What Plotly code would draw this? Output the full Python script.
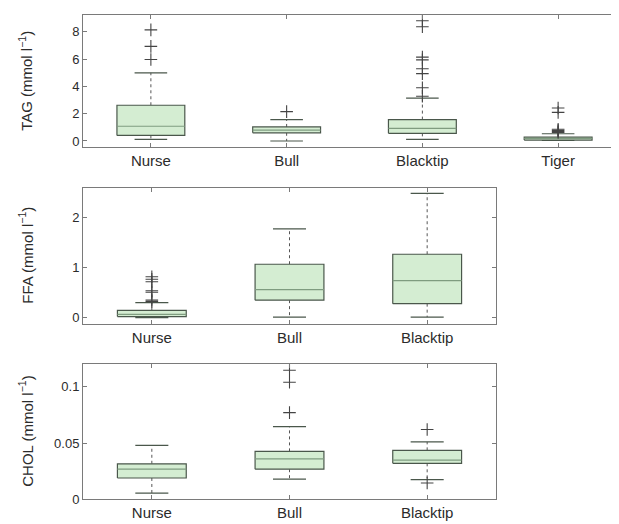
import plotly.graph_objects as go

# ---------------- data ----------------
tag_cats = ["Nurse", "Bull", "Blacktip", "Tiger"]
tag_q1 = [0.41, 0.60, 0.56, 0.07]
tag_med = [1.08, 0.80, 0.92, 0.19]
tag_q3 = [2.62, 1.03, 1.57, 0.29]
tag_lw = [0.12, 0.00, 0.12, 0.04]
tag_uw = [5.00, 1.57, 3.15, 0.53]
tag_out = [[5.98, 6.94, 8.15], [2.15], [3.28, 3.9, 4.94, 5.3, 5.95, 6.15, 8.38, 8.82], [0.62, 0.7, 0.78, 0.86, 2.1, 2.42]]

ffa_cats = ["Nurse", "Bull", "Blacktip"]
ffa_q1 = [0.02, 0.35, 0.28]
ffa_med = [0.065, 0.56, 0.74]
ffa_q3 = [0.145, 1.07, 1.27]
ffa_lw = [0.0, 0.01, 0.01]
ffa_uw = [0.30, 1.78, 2.49]
ffa_out = [[0.32, 0.35, 0.51, 0.54, 0.72, 0.77, 0.82], [], []]

chol_cats = ["Nurse", "Bull", "Blacktip"]
chol_q1 = [0.019, 0.0268, 0.032]
chol_med = [0.0268, 0.036, 0.0348]
chol_q3 = [0.0316, 0.0426, 0.0435]
chol_lw = [0.0055, 0.018, 0.0175]
chol_uw = [0.048, 0.0646, 0.051]
chol_out = [[], [0.077, 0.104, 0.1146], [0.0146, 0.062]]

panels = [
    dict(cats=tag_cats, q1=tag_q1, med=tag_med, q3=tag_q3, lw=tag_lw, uw=tag_uw, out=tag_out,
         title="TAG (mmol l<sup>−1</sup>)", yrange=[-0.43, 9.25], tickvals=[0, 2, 4, 6, 8],
         ticktext=["0", "2", "4", "6", "8"], xdom=[75/619, 618/619], ydom=[1-141/524, 1-7/524]),
    dict(cats=ffa_cats, q1=ffa_q1, med=ffa_med, q3=ffa_q3, lw=ffa_lw, uw=ffa_uw, out=ffa_out,
         title="FFA (mmol l<sup>−1</sup>)", yrange=[-0.12, 2.6], tickvals=[0, 1, 2],
         ticktext=["0", "1", "2"], xdom=[75/619, 488/619], ydom=[1-320.5/524, 1-182.7/524]),
    dict(cats=chol_cats, q1=chol_q1, med=chol_med, q3=chol_q3, lw=chol_lw, uw=chol_uw, out=chol_out,
         title="CHOL (mmol l<sup>−1</sup>)", yrange=[0, 0.12], tickvals=[0, 0.05, 0.1],
         ticktext=["0", "0.05", "0.1"], xdom=[75/619, 488/619], ydom=[1-499/524, 1-361.7/524]),
]

FILL = "#d4edd2"
EDGE = "#4a574b"
MED = "#7f9c80"
AXC = "#7a7a7a"
TXT = "#2b2b2b"
HW = 0.25   # half box width
CW = 0.12   # half cap width

fig = go.Figure()
layout = {}
annotations = []
for p_i, p in enumerate(panels):
    sfx = "" if p_i == 0 else str(p_i + 1)
    xa, ya = "x" + sfx, "y" + sfx
    for i, c in enumerate(p["cats"]):
        x = i + 1
        # whiskers (dashed)
        fig.add_trace(go.Scatter(x=[x, x, None, x, x], y=[p["q3"][i], p["uw"][i], None, p["q1"][i], p["lw"][i]],
                                 mode="lines", line=dict(color="#555555", width=1, dash="3px,3px"),
                                 xaxis=xa, yaxis=ya, showlegend=False, hoverinfo="skip"))
        # caps
        fig.add_trace(go.Scatter(x=[x-CW, x+CW, None, x-CW, x+CW], y=[p["uw"][i], p["uw"][i], None, p["lw"][i], p["lw"][i]],
                                 mode="lines", line=dict(color=EDGE, width=1.2),
                                 xaxis=xa, yaxis=ya, showlegend=False, hoverinfo="skip"))
        # box
        fig.add_trace(go.Scatter(x=[x-HW, x+HW, x+HW, x-HW, x-HW], y=[p["q1"][i], p["q1"][i], p["q3"][i], p["q3"][i], p["q1"][i]],
                                 mode="lines", fill="toself", fillcolor=FILL, line=dict(color=EDGE, width=1.2),
                                 xaxis=xa, yaxis=ya, showlegend=False, name=c))
        # median
        fig.add_trace(go.Scatter(x=[x-HW, x+HW], y=[p["med"][i], p["med"][i]],
                                 mode="lines", line=dict(color=MED, width=1.2),
                                 xaxis=xa, yaxis=ya, showlegend=False, hoverinfo="skip"))
        # outliers
        if p["out"][i]:
            fig.add_trace(go.Scatter(x=[x]*len(p["out"][i]), y=p["out"][i], mode="markers",
                                     marker=dict(symbol="cross-thin", size=9, line=dict(color="#444444", width=1.1)),
                                     xaxis=xa, yaxis=ya, showlegend=False))
    n = len(p["cats"])
    layout["xaxis" + sfx] = dict(domain=p["xdom"], anchor=ya, range=[0.5, n + 0.5],
                                 tickvals=list(range(1, n + 1)), ticktext=p["cats"],
                                 showline=True, mirror="ticks", linecolor=AXC, linewidth=1,
                                 ticks="inside", ticklen=4, tickcolor=AXC, showgrid=False, zeroline=False,
                                 tickfont=dict(family="Liberation Sans, Arial", size=15, color=TXT),
                                 fixedrange=True)
    layout["yaxis" + sfx] = dict(domain=p["ydom"], anchor=xa, range=p["yrange"],
                                 tickvals=p["tickvals"], ticktext=p["ticktext"],
                                 showline=True, mirror="ticks", linecolor=AXC, linewidth=1,
                                 ticks="inside", ticklen=4, tickcolor=AXC, showgrid=False, zeroline=False,
                                 tickfont=dict(family="Liberation Sans, Arial", size=13, color=TXT),
                                 fixedrange=True)
    annotations.append(dict(text=p["title"], x=18/619, y=sum(p["ydom"])/2, xref="paper", yref="paper",
                            textangle=-90, showarrow=False, xanchor="center", yanchor="middle",
                            font=dict(family="Liberation Sans, Arial", size=15, color=TXT)))

fig.update_layout(**layout)
fig.update_layout(width=619, height=524, margin=dict(l=0, r=0, t=0, b=0),
                  paper_bgcolor="white", plot_bgcolor="white", annotations=annotations,
                  showlegend=False)
fig.write_html("out.html")
